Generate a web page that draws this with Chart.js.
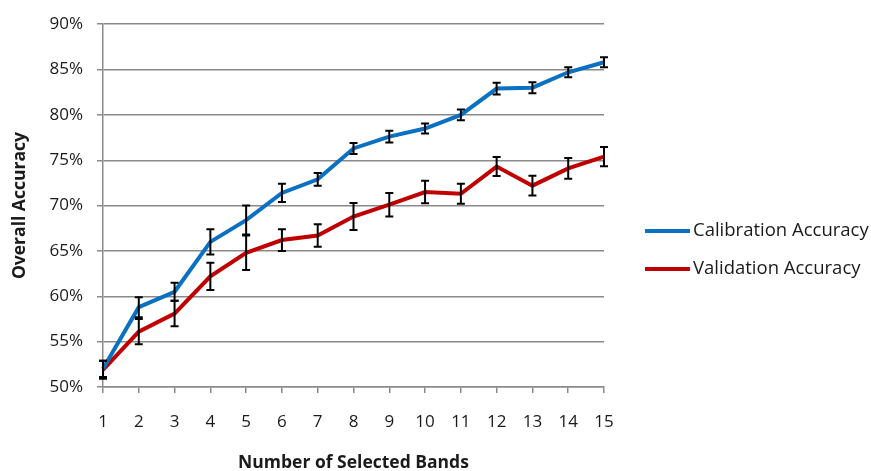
<!DOCTYPE html>
<html>
<head>
<meta charset="utf-8">
<script src="https://cdn.jsdelivr.net/npm/chart.js@4"></script>
<style>
  html, body { margin: 0; padding: 0; background: #ffffff; }
  #wrap { position: relative; width: 871px; height: 471px; }
</style>
</head>
<body>
<div id="wrap"><canvas id="chart" width="871" height="471"></canvas></div>
<script>
// Number of selected bands (x categories)
const bands = ['1','2','3','4','5','6','7','8','9','10','11','12','13','14','15'];

// Overall accuracy (%) and standard error half-widths
const calibrationAccuracy = [52.0, 58.8, 60.5, 66.0, 68.4, 71.4, 72.9, 76.3, 77.6, 78.5, 80.0, 82.9, 83.0, 84.7, 85.8];
const calibrationError    = [0.9, 1.1, 1.0, 1.4, 1.6, 1.0, 0.7, 0.6, 0.65, 0.55, 0.6, 0.65, 0.6, 0.55, 0.55];
const validationAccuracy  = [51.9, 56.1, 58.1, 62.2, 64.8, 66.2, 66.7, 68.8, 70.1, 71.5, 71.3, 74.3, 72.2, 74.1, 75.4];
const validationError     = [1.0, 1.4, 1.4, 1.5, 1.9, 1.2, 1.25, 1.5, 1.3, 1.25, 1.1, 1.05, 1.1, 1.15, 1.05];

const yTicks = [50, 55, 60, 65, 70, 75, 80, 85, 90];

const FONT = "'Open Sans', 'Liberation Sans', sans-serif";
const GRID = '#8a8a8a';
const TEXT = '#1a1a1a';

// Error bars with caps, drawn through the chart scales
const errorBars = {
  id: 'errorBars',
  afterDatasetsDraw(chart) {
    const { ctx, scales: { x, y } } = chart;
    ctx.save();
    ctx.strokeStyle = '#000000';
    ctx.lineWidth = 2;
    chart.data.datasets.forEach(ds => {
      ds.data.forEach((v, i) => {
        const e = ds.errors[i];
        const px = x.getPixelForValue(i);
        const yTop = y.getPixelForValue(v + e);
        const yBot = y.getPixelForValue(v - e);
        ctx.beginPath();
        ctx.moveTo(px, yTop); ctx.lineTo(px, yBot);
        ctx.moveTo(px - 4, yTop); ctx.lineTo(px + 4, yTop);
        ctx.moveTo(px - 4, yBot); ctx.lineTo(px + 4, yBot);
        ctx.stroke();
      });
    });
    ctx.restore();
  }
};

// Legend at the right side with line samples
const sideLegend = {
  id: 'sideLegend',
  afterDraw(chart) {
    const { ctx } = chart;
    const rows = [231, 269];
    ctx.save();
    chart.data.datasets.forEach((ds, i) => {
      const yy = rows[i];
      ctx.strokeStyle = ds.borderColor;
      ctx.lineWidth = 4;
      ctx.beginPath();
      ctx.moveTo(645, yy); ctx.lineTo(690, yy);
      ctx.stroke();
      ctx.fillStyle = TEXT;
      ctx.font = '18.5px ' + FONT;
      ctx.textBaseline = 'middle';
      ctx.textAlign = 'left';
      ctx.fillText(ds.label, 693, yy);
    });
    ctx.restore();
  }
};

new Chart(document.getElementById('chart'), {
  type: 'line',
  data: {
    labels: bands,
    datasets: [
      {
        label: 'Calibration Accuracy',
        data: calibrationAccuracy,
        errors: calibrationError,
        borderColor: '#0a70c2',
        borderWidth: 4,
        pointRadius: 0,
        tension: 0,
        fill: false
      },
      {
        label: 'Validation Accuracy',
        data: validationAccuracy,
        errors: validationError,
        borderColor: '#c00000',
        borderWidth: 4,
        pointRadius: 0,
        tension: 0,
        fill: false
      }
    ]
  },
  options: {
    responsive: false,
    animation: false,
    layout: { padding: { top: 21, right: 267, bottom: 0, left: 0 } },
    plugins: {
      legend: { display: false },
      tooltip: { enabled: false }
    },
    scales: {
      x: {
        type: 'category',
        offset: false,
        grid: {
          display: true,
          drawOnChartArea: false,
          drawTicks: true,
          tickLength: 6,
          color: GRID,
          lineWidth: 1.5
        },
        border: { display: true, color: GRID, width: 1.5 },
        ticks: { color: TEXT, font: { family: FONT, size: 17 }, padding: 19, maxRotation: 0, autoSkip: false },
        title: {
          display: true,
          text: 'Number of Selected Bands',
          color: TEXT,
          font: { family: FONT, size: 17.5, weight: 'bold' },
          padding: { top: 22, bottom: -3 }
        },
        afterFit(scale) { scale.height = 84; }
      },
      y: {
        min: 50,
        max: 90,
        afterBuildTicks(scale) { scale.ticks = yTicks.map(v => ({ value: v })); },
        grid: {
          color: GRID,
          lineWidth: 1.5,
          drawTicks: true,
          tickLength: 6
        },
        border: { display: true, color: GRID, width: 1.5 },
        ticks: {
          color: TEXT,
          font: { family: FONT, size: 17 },
          padding: 14,
          callback: v => v + '%'
        },
        title: {
          display: true,
          text: 'Overall Accuracy',
          color: TEXT,
          font: { family: FONT, size: 17.5, weight: 'bold' },
          padding: { top: 10, bottom: 8 }
        },
        afterFit(scale) { scale.width = 103; }
      }
    }
  },
  plugins: [errorBars, sideLegend]
});
</script>
</body>
</html>
